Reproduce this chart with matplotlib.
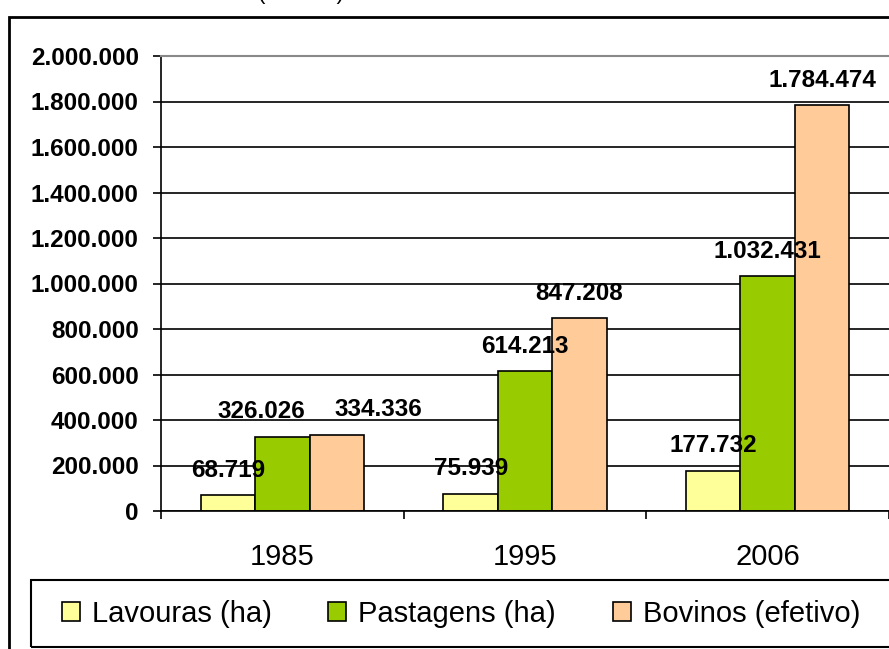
import numpy as np
import matplotlib.pyplot as plt
from matplotlib.patches import Rectangle
from matplotlib.ticker import FixedLocator, NullFormatter

plt.rcParams['font.family'] = ['Liberation Sans', 'DejaVu Sans']

years = ["1985", "1995", "2006"]
lavouras = [68719, 75939, 177732]
pastagens = [326026, 614213, 1032431]
bovinos = [334336, 847208, 1784474]
series_names = ["Lavouras (ha)", "Pastagens (ha)", "Bovinos (efetivo)"]
series_colors = ["#FFFF99", "#99CC00", "#FFCC99"]
yticks = list(range(0, 2000001, 200000))

# label nudges (points) for the crowded 1985 group
nudge = {(1, 0): -15, (2, 0): 30}


def fmt(v):
    return f"{v:,}".replace(",", ".")


fig = plt.figure(figsize=(8.89, 6.49), dpi=100)
ax = fig.add_axes([161 / 889, 1 - 511 / 649, 728 / 889, 455 / 649])

x = np.arange(len(years))
width = 0.224
all_series = [lavouras, pastagens, bovinos]
for i, vals in enumerate(all_series):
    bars = ax.bar(x + (i - 1) * width, vals, width, color=series_colors[i],
                  edgecolor="black", linewidth=1.2, label=series_names[i])
    for j, b in enumerate(bars):
        ax.annotate(fmt(vals[j]),
                    (b.get_x() + b.get_width() / 2, b.get_height()),
                    xytext=(nudge.get((i, j), 0), 18), textcoords="offset points",
                    ha="center", va="center", fontsize=17.5, fontweight="bold")

ax.set_xlim(-0.5, 2.5)
ax.set_ylim(0, 2000000)
ax.set_yticks(yticks)
ax.set_yticklabels([fmt(v) for v in yticks], fontsize=17.5, fontweight="bold")
ax.yaxis.grid(True, color="black", linewidth=1.2)
ax.set_axisbelow(True)

ax.set_xticks(x)
ax.set_xticklabels(years, fontsize=21)
ax.xaxis.set_minor_locator(FixedLocator([-0.5, 0.5, 1.5, 2.5]))
ax.xaxis.set_minor_formatter(NullFormatter())
ax.tick_params(axis="x", which="major", length=0, pad=23)
ax.tick_params(axis="x", which="minor", length=6, width=1.2)
ax.tick_params(axis="y", length=6, width=1.2, pad=10)

ax.spines["right"].set_visible(False)
ax.spines["top"].set_color("#888888")
ax.spines["top"].set_linewidth(1.5)
ax.spines["left"].set_linewidth(1.2)
ax.spines["bottom"].set_linewidth(1.2)

# chart frame and legend box, both run off the right/bottom edge
fig.patches.append(Rectangle((9 / 889, -0.2), 1.2, 1 - 17 / 649 + 0.2,
                             transform=fig.transFigure, fill=False,
                             edgecolor="black", linewidth=2))
fig.patches.append(Rectangle((31 / 889, 1 - 647 / 649), 1.2, 67 / 649,
                             transform=fig.transFigure, fill=False,
                             edgecolor="black", linewidth=1.5))

fig.legend(loc="center left", bbox_to_anchor=(47 / 889, 1 - 614 / 649),
           ncol=3, frameon=False, fontsize=21, handlelength=0.62,
           handleheight=0.62, handletextpad=0.41, columnspacing=1.95,
           borderpad=0)

# title sits above the visible area; only the tails of the brackets show
fig.text(258 / 889, 1 + 1 / 649, "(Paraná)", fontsize=16, ha="left",
         va="baseline")

fig.savefig("out.png", dpi=100)
